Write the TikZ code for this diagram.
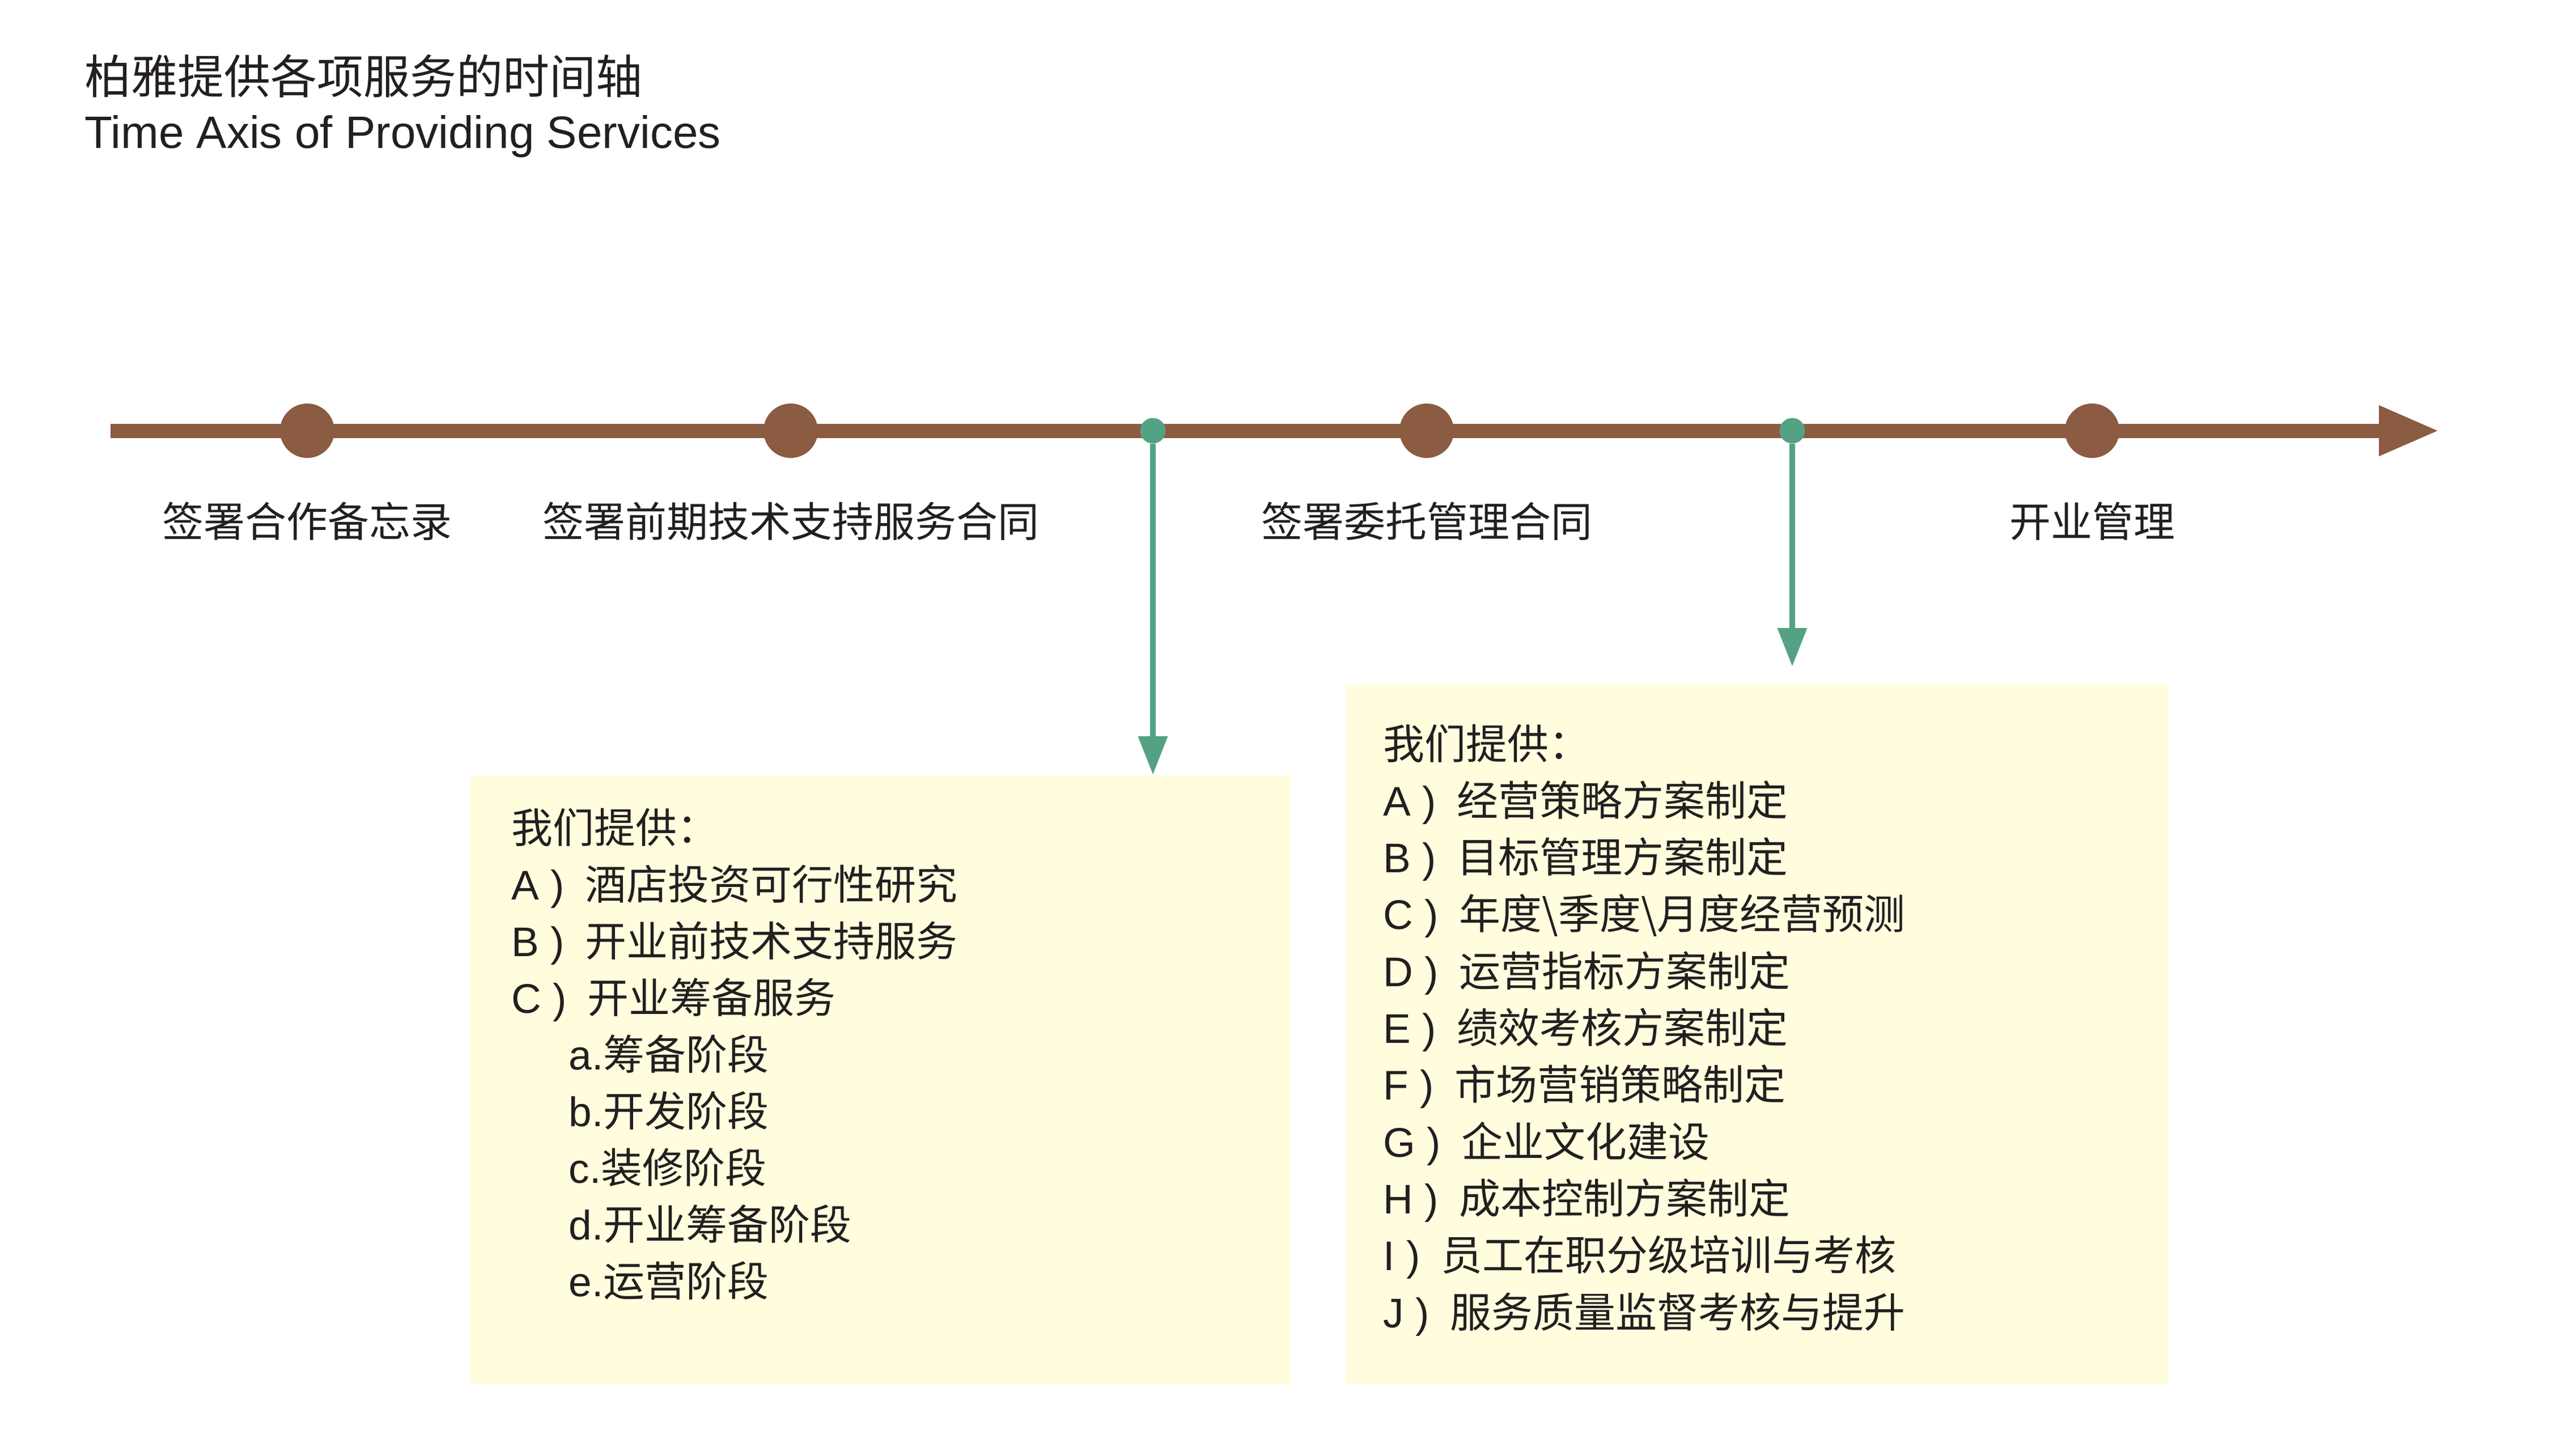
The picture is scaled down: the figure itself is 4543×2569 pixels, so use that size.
\documentclass[tikz,border=0pt]{standalone}
\usepackage{fontspec}
\setmainfont{Liberation Sans}
\newfontfamily\cjk{Noto Sans CJK SC}
\usetikzlibrary{arrows.meta}
\definecolor{axisbrown}{RGB}{139,91,66}
\definecolor{markgreen}{RGB}{84,162,132}
\definecolor{boxfill}{RGB}{255,253,222}
\definecolor{inkc}{RGB}{35,31,32}
\newcommand\parengap{\hspace{0.5em}}
\begin{document}
\begin{tikzpicture}[x=0.25pt,y=-0.25pt,
  lbl/.style={inner sep=0pt, anchor=base, text=inkc, font=\fontsize{18.25pt}{22pt}\selectfont\cjk},
  item/.style={inner sep=0pt, anchor=base west, text=inkc, font=\fontsize{18.25pt}{22pt}\selectfont},
  bigdot/.style={circle, fill=axisbrown, minimum size=24pt, inner sep=0pt},
  gdot/.style={circle, fill=markgreen, minimum size=11.25pt, inner sep=0pt},
  infobox/.style={rectangle, fill=boxfill, inner sep=0pt, anchor=north west},
  gline/.style={draw=markgreen, line width=2.5pt, -{Triangle[length=17pt,width=12.5pt]}},
  axisline/.style={draw=axisbrown, line width=6.25pt, -{Triangle[length=26.75pt,width=20.5pt]}}
]
\useasboundingbox (0,0) rectangle (4543,2569);
\fill[white] (0,0) rectangle (4543,2569);

% title
\node[inner sep=0pt, anchor=base west, text=inkc, font=\fontsize{20.5pt}{24pt}\selectfont\cjk] (tcn) at (149,166) {柏雅提供各项服务的时间轴};
\node[inner sep=0pt, anchor=base west, text=inkc, font=\fontsize{20pt}{24pt}\selectfont] (ten) at (149,262) {Time Axis of Providing Services};

% boxes
\node[infobox, minimum width=362pt, minimum height=268.75pt] (box1) at (828,1367) {};
\node[infobox, minimum width=362.75pt, minimum height=308.75pt] (box2) at (2373,1207) {};

% axis
\coordinate (axstart) at (195,760);
\coordinate (axend) at (4304,760);
\draw[axisline] (axstart) -- (axend);

% milestones
\node[bigdot] (m1) at (542,760) {};
\node[bigdot] (m2) at (1395,760) {};
\node[bigdot] (m3) at (2517,760) {};
\node[bigdot] (m4) at (3691,760) {};

% green markers and arrows
\node[gdot] (s1) at (2034,760) {};
\node[gdot] (s2) at (3162,760) {};
\draw[gline] (s1.south) -- (s1.south |- box1.north);
\coordinate (t2) at (3162,1176);
\draw[gline] (s2.south) -- (t2);

% milestone labels
\node[lbl] (l1) at (542,947) {签署合作备忘录};
\node[lbl] (l2) at (1395,947) {签署前期技术支持服务合同};
\node[lbl] (l3) at (2517,947) {签署委托管理合同};
\node[lbl] (l4) at (3691,947) {开业管理};

% box 1 text
\foreach \t [count=\i from 0] in {{\cjk 我们提供：},A )\parengap{\cjk 酒店投资可行性研究},B )\parengap{\cjk 开业前技术支持服务},C )\parengap{\cjk 开业筹备服务}}
  \node[item] (ba\i) at (902,{1487+100*\i}) {\t};
\foreach \t [count=\i from 4] in {a.{\cjk 筹备阶段},b.{\cjk 开发阶段},c.{\cjk 装修阶段},d.{\cjk 开业筹备阶段},e.{\cjk 运营阶段}}
  \node[item] (ba\i) at (1003,{1487+100*\i}) {\t};

% box 2 text
\foreach \t [count=\i from 0] in {{\cjk 我们提供：},A )\parengap{\cjk 经营策略方案制定},B )\parengap{\cjk 目标管理方案制定},C )\parengap{\cjk 年度\textbackslash 季度\textbackslash 月度经营预测},D )\parengap{\cjk 运营指标方案制定},E )\parengap{\cjk 绩效考核方案制定},F )\parengap{\cjk 市场营销策略制定},G )\parengap{\cjk 企业文化建设},H )\parengap{\cjk 成本控制方案制定},I )\parengap{\cjk 员工在职分级培训与考核},J )\parengap{\cjk 服务质量监督考核与提升}}
  \node[item] (bb\i) at (2440,{1339+100.3*\i}) {\t};
\end{tikzpicture}
\end{document}
